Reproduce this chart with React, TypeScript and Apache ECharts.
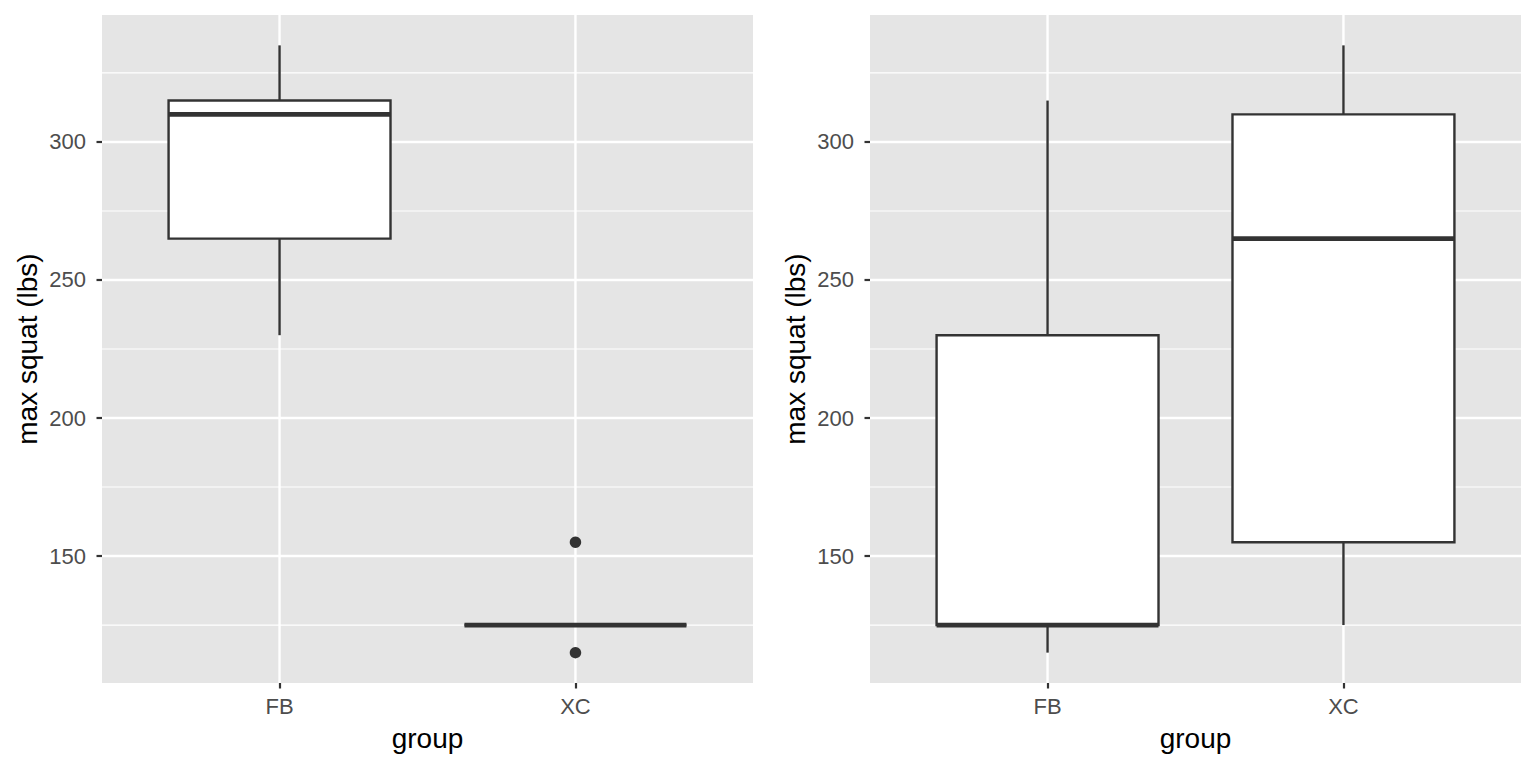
import { useEffect, useRef } from 'react';
import * as echarts from 'echarts';

// ---- data ----
const categories = ['FB', 'XC'];
const yMajorTicks = [150, 200, 250, 300];
const yMinorTicks = [125, 175, 225, 275, 325];
// [lower whisker, Q1, median, Q3, upper whisker]
const leftFB = [230, 265, 310, 315, 335];
const leftXC = [125, 125, 125, 125, 125];
const leftXCOutliers = [155, 115];
const rightFB = [115, 125, 125, 230, 315];
const rightXC = [125, 155, 265, 310, 335];
const yLimits = [104, 346];
const xLimits = [0.4, 2.6];

const FONT = '"Liberation Sans", Arial, Helvetica, sans-serif';
const INK = '#333333';
const PANEL = '#E5E5E5';

const boxRender = (params: any, api: any) => {
  const x = api.value(0);
  const lo = api.value(1);
  const q1 = api.value(2);
  const med = api.value(3);
  const q3 = api.value(4);
  const hi = api.value(5);
  const hw = 0.375;
  const pLo = api.coord([x, lo]);
  const pQ1 = api.coord([x, q1]);
  const pMed = api.coord([x, med]);
  const pQ3 = api.coord([x, q3]);
  const pHi = api.coord([x, hi]);
  const xl = api.coord([x - hw, med])[0];
  const xr = api.coord([x + hw, med])[0];
  const children: any[] = [];
  if (hi > q3) {
    children.push({ type: 'line', shape: { x1: pQ3[0], y1: pQ3[1], x2: pHi[0], y2: pHi[1] }, style: { stroke: INK, lineWidth: 2.4 } });
  }
  if (lo < q1) {
    children.push({ type: 'line', shape: { x1: pQ1[0], y1: pQ1[1], x2: pLo[0], y2: pLo[1] }, style: { stroke: INK, lineWidth: 2.4 } });
  }
  children.push({
    type: 'rect',
    shape: { x: xl, y: pQ3[1], width: xr - xl, height: pQ1[1] - pQ3[1] },
    style: { fill: '#ffffff', stroke: INK, lineWidth: 2.4 },
  });
  children.push({ type: 'line', shape: { x1: xl, y1: pMed[1], x2: xr, y2: pMed[1] }, style: { stroke: INK, lineWidth: 4.8 } });
  return { type: 'group', children };
};

const hLineRender = (params: any, api: any) => {
  const cs = params.coordSys;
  const y = api.coord([1, api.value(0)])[1];
  return {
    type: 'line',
    shape: { x1: cs.x, y1: y, x2: cs.x + cs.width, y2: y },
    style: { stroke: '#ffffff', lineWidth: api.value(1) },
  };
};

const vLineRender = (params: any, api: any) => {
  const cs = params.coordSys;
  const x = api.coord([api.value(0), 200])[0];
  return {
    type: 'line',
    shape: { x1: x, y1: cs.y, x2: x, y2: cs.y + cs.height },
    style: { stroke: '#ffffff', lineWidth: 2.4 },
  };
};

const catIdx = categories.map((_, i) => i + 1);

function makeX(gridIndex: number) {
  return {
    type: 'value',
    gridIndex,
    min: xLimits[0],
    max: xLimits[1],
    axisLine: { show: false },
    splitLine: { show: false },
    axisTick: { show: true, customValues: catIdx, length: 5.5, lineStyle: { color: INK, width: 2.2 } },
    axisLabel: {
      customValues: catIdx,
      formatter: (v: number) => categories[Math.round(v) - 1] ?? '',
      color: '#4D4D4D',
      fontSize: 22,
      fontFamily: FONT,
      margin: 12,
    },
    name: 'group',
    nameLocation: 'middle',
    nameGap: 41,
    nameTextStyle: { color: '#000000', fontSize: 28, fontFamily: FONT },
  };
}

function makeY(gridIndex: number) {
  return {
    type: 'value',
    gridIndex,
    min: yLimits[0],
    max: yLimits[1],
    axisLine: { show: false },
    splitLine: { show: false },
    axisTick: { show: true, customValues: yMajorTicks, length: 5.5, lineStyle: { color: INK, width: 2.2 } },
    axisLabel: {
      customValues: yMajorTicks,
      color: '#4D4D4D',
      fontSize: 22,
      fontFamily: FONT,
      margin: 16,
    },
    name: 'max squat (lbs)',
    nameLocation: 'middle',
    nameGap: 61,
    nameTextStyle: { color: '#000000', fontSize: 28, fontFamily: FONT },
  };
}

const hLineData = [...yMajorTicks.map((v) => [v, 2.4]), ...yMinorTicks.map((v) => [v, 1.2])];

function panelSeries(i: number, boxes: number[][], outliers: number[][]) {
  const list: any[] = [
    {
      type: 'custom',
      xAxisIndex: i,
      yAxisIndex: i,
      renderItem: hLineRender,
      data: hLineData,
      encode: { y: 0 },
      z: 1,
      silent: true,
    },
    {
      type: 'custom',
      xAxisIndex: i,
      yAxisIndex: i,
      renderItem: vLineRender,
      data: catIdx.map((c) => [c]),
      encode: { x: 0 },
      z: 1,
      silent: true,
    },
    {
      type: 'custom',
      xAxisIndex: i,
      yAxisIndex: i,
      renderItem: boxRender,
      data: boxes,
      encode: { x: 0, y: [1, 2, 3, 4, 5] },
      z: 2,
    },
  ];
  if (outliers.length) {
    list.push({
      type: 'scatter',
      xAxisIndex: i,
      yAxisIndex: i,
      data: outliers,
      symbol: 'circle',
      symbolSize: 11.5,
      itemStyle: { color: INK, opacity: 1 },
      z: 3,
    });
  }
  return list;
}

export default function App() {
  const ref = useRef<HTMLDivElement>(null);
  useEffect(() => {
    if (!ref.current) return;
    const chart = echarts.init(ref.current, null, { renderer: 'svg' });
    const leftBoxes = [[1, ...leftFB], [2, ...leftXC]];
    const rightBoxes = [[1, ...rightFB], [2, ...rightXC]];
    const leftOut = leftXCOutliers.map((v) => [2, v]);
    chart.setOption({
      animation: false,
      backgroundColor: '#ffffff',
      grid: [
        { left: 102, top: 15, width: 651, height: 668, show: true, backgroundColor: PANEL, borderWidth: 0, containLabel: false, outerBoundsMode: 'none' },
        { left: 870, top: 15, width: 651, height: 668, show: true, backgroundColor: PANEL, borderWidth: 0, containLabel: false, outerBoundsMode: 'none' },
      ],
      xAxis: [makeX(0), makeX(1)],
      yAxis: [makeY(0), makeY(1)],
      series: [...panelSeries(0, leftBoxes, leftOut), ...panelSeries(1, rightBoxes, [])],
    });
    return () => chart.dispose();
  }, []);
  return <div ref={ref} style={{ position: 'fixed', left: 0, top: 0, width: 1536, height: 768 }} />;
}
